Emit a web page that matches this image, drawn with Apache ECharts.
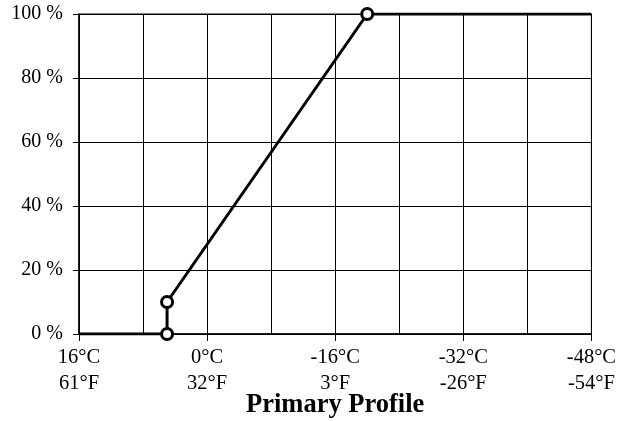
<!DOCTYPE html>
<html><head><meta charset="utf-8">
<script src="https://cdn.jsdelivr.net/npm/echarts@6/dist/echarts.min.js"></script>
<style>html,body{margin:0;padding:0;background:#fff}#c{width:619px;height:421px}</style>
</head><body><div id="c"></div>
<script>
const tempC = [16, 5, 5, -20, -48];
const percent = [0, 0, 10, 100, 100];
const markerShown = [false, true, true, true, false];
const tickC = [16, 0, -16, -32, -48];
const tickCLabels = ['16°C', '0°C', '-16°C', '-32°C', '-48°C'];
const tickFLabels = ['61°F', '32°F', '3°F', '-26°F', '-54°F'];
const title = 'Primary Profile';

const chart = echarts.init(document.getElementById('c'));
const font = 'Liberation Serif';
chart.setOption({
  animation: false,
  backgroundColor: '#fff',
  graphic: [{type: 'text', left: 246, top: 392, style: {text: title,
    font: 'bold 26.5px "Liberation Serif"', fill: '#000'}}],
  grid: {left: 79, right: 27, top: 14, bottom: 87, show: true, borderColor: '#000', borderWidth: 1},
  xAxis: {type: 'value', inverse: true, min: -48, max: 16, interval: 16,
    axisLine: {show: true, onZero: false, lineStyle: {color: '#000', width: 1.5}},
    axisTick: {show: true, inside: false, length: 7, lineStyle: {color: '#000'}},
    splitLine: {show: true, lineStyle: {color: '#000', width: 1}},
    minorTick: {show: false, splitNumber: 2},
    minorSplitLine: {show: true, lineStyle: {color: '#000', width: 1}},
    axisLabel: {fontFamily: font, fontSize: 20.5, color: '#000', margin: 11, lineHeight: 26,
      formatter: v => { const i = tickC.indexOf(v); return i < 0 ? '' : tickCLabels[i] + '\n' + tickFLabels[i]; }}
  },
  yAxis: {type: 'value', min: 0, max: 100, interval: 20,
    axisLine: {show: true, onZero: false, lineStyle: {color: '#000', width: 1.5}},
    axisTick: {show: true, length: 6, lineStyle: {color: '#000'}},
    splitLine: {show: true, lineStyle: {color: '#000', width: 1}},
    axisLabel: {fontFamily: font, fontSize: 20, color: '#000', margin: 16, formatter: v => v + ' %'}
  },
  series: [{
    type: 'line',
    data: tempC.map((t, i) => ({value: [t, percent[i]], symbol: markerShown[i] ? 'circle' : 'none'})),
    symbolSize: 11,
    lineStyle: {color: '#000', width: 3},
    itemStyle: {color: '#fff', borderColor: '#000', borderWidth: 3},
    z: 5
  }]
});
</script></body></html>
